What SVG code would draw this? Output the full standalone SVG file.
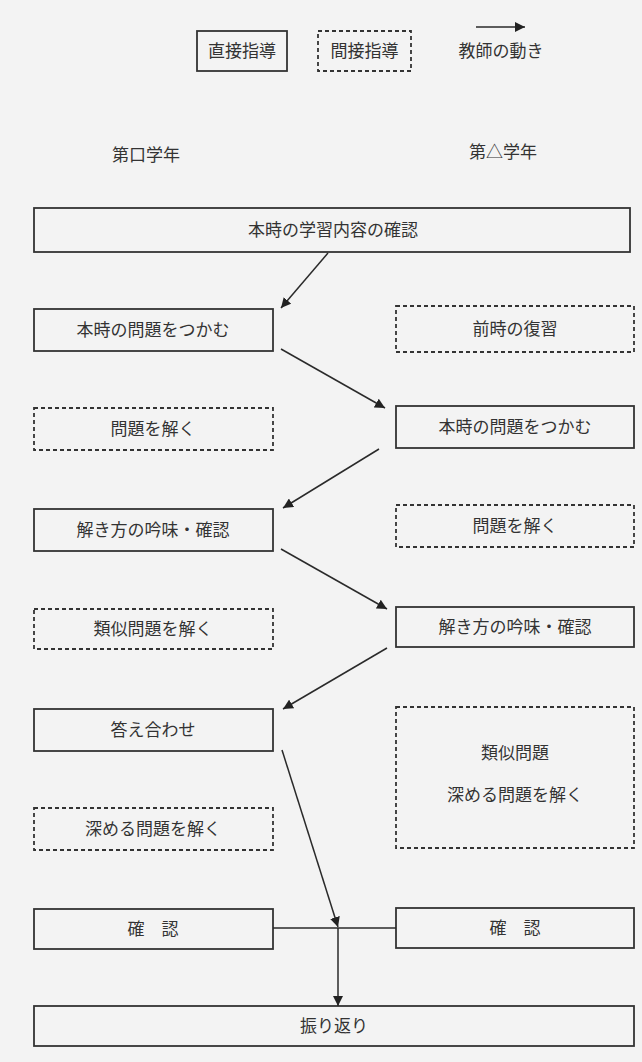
<svg xmlns="http://www.w3.org/2000/svg" width="642" height="1062" viewBox="0 0 642 1062">
<style>
  .solid { fill: none; stroke: #333; stroke-width: 1.8; }
  .dash { fill: none; stroke: #333; stroke-width: 1.8; stroke-dasharray: 4 3; }
  .t { font-family: "Noto Sans CJK JP", "Noto Sans CJK SC", sans-serif; font-size: 17px; fill: #333; text-anchor: middle; }
  .conn { fill: none; stroke: #2a2a2a; stroke-width: 1.5; }
</style>
<defs>
  <marker id="ah" viewBox="0 0 10 10" refX="10" refY="5" markerWidth="10" markerHeight="10" markerUnits="userSpaceOnUse" orient="auto">
    <path d="M0,0 L10,5 L0,10 z" fill="#222"/>
  </marker>
</defs>
<rect x="0" y="0" width="642" height="1062" fill="#f3f3f3"/>

<g id="legend">
  <g id="legend-direct">
    <rect class="solid" x="197" y="31" width="90" height="40"/>
    <text class="t" x="242" y="57">直接指導</text>
  </g>
  <g id="legend-indirect">
    <rect class="dash" x="318" y="31" width="93" height="40"/>
    <text class="t" x="364.5" y="57">間接指導</text>
  </g>
  <g id="legend-move">
    <line class="conn" x1="476" y1="27" x2="525" y2="27" marker-end="url(#ah)"/>
    <text class="t" x="501" y="57">教師の動き</text>
  </g>
</g>

<g id="header-left"><text class="t" x="146" y="161">第口学年</text></g>
<g id="header-right"><text class="t" x="503" y="158">第△学年</text></g>

<g id="n-top">
  <rect class="solid" x="34" y="208" width="596" height="44"/>
  <text class="t" x="333" y="236">本時の学習内容の確認</text>
</g>

<g id="n-L1">
  <rect class="solid" x="34" y="309" width="239" height="42"/>
  <text class="t" x="153" y="336">本時の問題をつかむ</text>
</g>
<g id="n-R1">
  <rect class="dash" x="396" y="306" width="238" height="46"/>
  <text class="t" x="515" y="335">前時の復習</text>
</g>

<g id="n-L2">
  <rect class="dash" x="34" y="408" width="239" height="42"/>
  <text class="t" x="153" y="435">問題を解く</text>
</g>
<g id="n-R2">
  <rect class="solid" x="396" y="406" width="238" height="42"/>
  <text class="t" x="515" y="433">本時の問題をつかむ</text>
</g>

<g id="n-L3">
  <rect class="solid" x="34" y="509" width="239" height="42"/>
  <text class="t" x="153" y="536">解き方の吟味・確認</text>
</g>
<g id="n-R3">
  <rect class="dash" x="396" y="505" width="238" height="42"/>
  <text class="t" x="515" y="532">問題を解く</text>
</g>

<g id="n-L4">
  <rect class="dash" x="34" y="609" width="239" height="40"/>
  <text class="t" x="153" y="635">類似問題を解く</text>
</g>
<g id="n-R4">
  <rect class="solid" x="396" y="607" width="238" height="40"/>
  <text class="t" x="515" y="633">解き方の吟味・確認</text>
</g>

<g id="n-L5">
  <rect class="solid" x="34" y="709" width="239" height="42"/>
  <text class="t" x="153" y="736">答え合わせ</text>
</g>
<g id="n-R5">
  <rect class="dash" x="396" y="707" width="238" height="141"/>
  <text class="t" x="515" y="759">類似問題</text>
  <text class="t" x="515" y="801">深める問題を解く</text>
</g>

<g id="n-L6">
  <rect class="dash" x="34" y="808" width="239" height="42"/>
  <text class="t" x="153" y="835">深める問題を解く</text>
</g>

<g id="n-L7">
  <rect class="solid" x="34" y="909" width="239" height="40"/>
  <text class="t" x="153" y="935">確　認</text>
</g>
<g id="n-R7">
  <rect class="solid" x="396" y="908" width="238" height="40"/>
  <text class="t" x="515" y="934">確　認</text>
</g>

<g id="n-bottom">
  <rect class="solid" x="34" y="1006" width="600" height="40"/>
  <text class="t" x="334" y="1032">振り返り</text>
</g>

<g id="connectors">
  <line class="conn" x1="328" y1="253" x2="281" y2="308" marker-end="url(#ah)"/>
  <line class="conn" x1="281" y1="349" x2="385" y2="408" marker-end="url(#ah)"/>
  <line class="conn" x1="379" y1="449" x2="283" y2="508" marker-end="url(#ah)"/>
  <line class="conn" x1="281" y1="549" x2="387" y2="609" marker-end="url(#ah)"/>
  <line class="conn" x1="387" y1="648" x2="283" y2="709" marker-end="url(#ah)"/>
  <line class="conn" x1="282" y1="750" x2="338" y2="927" marker-end="url(#ah)"/>
  <line class="conn" x1="273" y1="928" x2="396" y2="928"/>
  <line class="conn" x1="338" y1="928" x2="338" y2="1006" marker-end="url(#ah)"/>
</g>
</svg>
